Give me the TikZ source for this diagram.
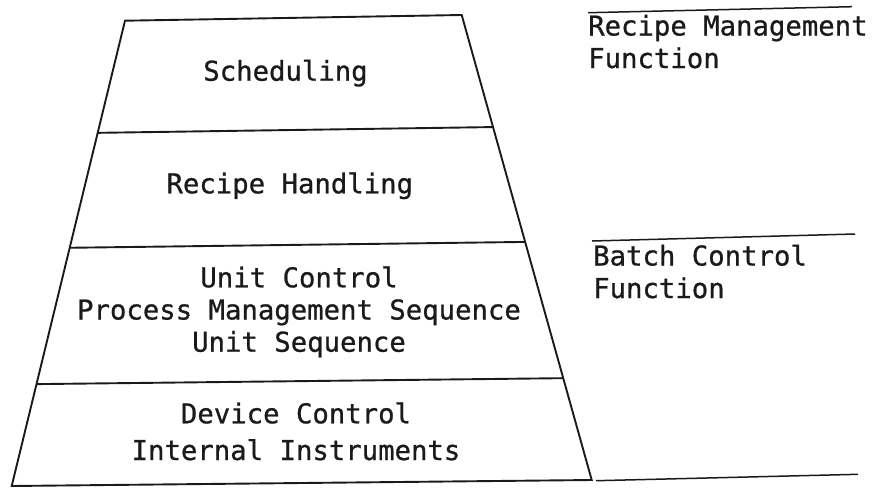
\documentclass[tikz,border=0pt]{standalone}
\usepackage{fontspec}
\newfontfamily\gothic[FakeBold=0.8]{DejaVu Sans Mono}
\usetikzlibrary{calc}
\definecolor{ink}{HTML}{1A1A1A}
\begin{document}
\begin{tikzpicture}[x=1pt,y=-1pt,
  frame/.style={draw=ink,line width=1.9pt,line join=miter},
  rule/.style={draw=ink,line width=1.5pt},
  layer/.style={inner sep=0pt,anchor=base,align=center,text=ink,
    font=\gothic\fontsize{27.3}{32.2}\selectfont},
  tag/.style={inner sep=0pt,anchor=base west,align=left,text=ink,
    font=\gothic\fontsize{27.3}{32.5}\selectfont}]
  \useasboundingbox (0,0) rectangle (874,488);

  % corners of the pyramid
  \coordinate (TL) at (125,20.7);
  \coordinate (TR) at (461.7,15);
  \coordinate (BR) at (591.7,480);
  \coordinate (BL) at (11.7,486);

  % layer dividers, taken at the same height fraction on both sides
  \coordinate (d1l) at ($(TL)!0.241!(BL)$);
  \coordinate (d1r) at ($(TR)!0.241!(BR)$);
  \coordinate (d2l) at ($(TL)!0.488!(BL)$);
  \coordinate (d2r) at ($(TR)!0.488!(BR)$);
  \coordinate (d3l) at ($(TL)!0.781!(BL)$);
  \coordinate (d3r) at ($(TR)!0.781!(BR)$);

  \draw[frame] (TL) -- (TR) -- (BR) -- (BL) -- cycle;
  \draw[frame] (d1l) -- (d1r);
  \draw[frame] (d2l) -- (d2r);
  \draw[frame] (d3l) -- (d3r);

  % layer contents (base anchor sits on the last line of each block)
  \node[layer] (sched) at (285.5,80.7) {Scheduling};
  \node[layer] (recipe) at (289.8,193.3) {Recipe Handling};
  \node[layer] (unit) at (299,351.7) {Unit Control\\Process Management Sequence\\Unit Sequence};
  \node[layer,font=\gothic\fontsize{27.3}{36.7}\selectfont] (device) at (296,460) {Device Control\\Internal Instruments};

  % function brackets on the right
  \coordinate (r1a) at (588,12.7);  \coordinate (r1b) at (852,6.7);
  \coordinate (r2a) at (592,241);   \coordinate (r2b) at (855,234);
  \coordinate (r3a) at (596,480.7); \coordinate (r3b) at (858,474.3);
  \draw[rule] (r1a) -- (r1b);
  \draw[rule] (r2a) -- (r2b);
  \draw[rule] (r3a) -- (r3b);

  \node[tag] (rmf) at (588,68) {Recipe Management\\Function};
  \node[tag] (bcf) at (593,298) {Batch Control\\Function};
\end{tikzpicture}
\end{document}
